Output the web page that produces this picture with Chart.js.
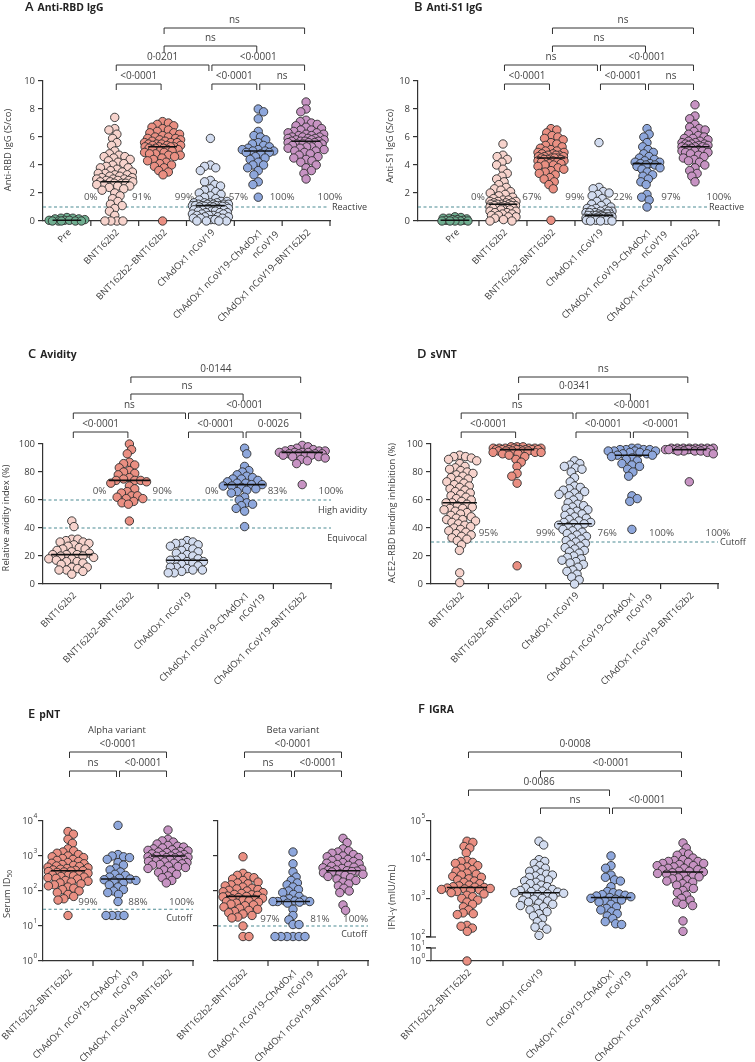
<!DOCTYPE html>
<html>
<head>
<meta charset="utf-8">
<script src="https://cdn.jsdelivr.net/npm/chart.js@4.4.0/dist/chart.umd.min.js"></script>
<style>
  body { margin: 0; background: #fff; width: 755px; height: 1062px; position: relative; overflow: hidden; }
  canvas { position: absolute; }
</style>
</head>
<body>
<canvas id="cA"></canvas>
<canvas id="cB"></canvas>
<canvas id="cC"></canvas>
<canvas id="cD"></canvas>
<canvas id="cE1"></canvas>
<canvas id="cE2"></canvas>
<canvas id="cF"></canvas>
<script>
// ---- categories ----
const CAT_LABELS = {
  pre: 'Pre',
  bnt: 'BNT162b2',
  bntbnt: 'BNT162b2–BNT162b2',
  chad: 'ChAdOx1 nCoV19',
  chadchad: ['ChAdOx1 nCoV19–ChAdOx1', 'nCoV19'],
  chadbnt: 'ChAdOx1 nCoV19–BNT162b2'
};
const KEYS_AB = ['pre', 'bnt', 'bntbnt', 'chad', 'chadchad', 'chadbnt'];
const KEYS_CD = ['bnt', 'bntbnt', 'chad', 'chadchad', 'chadbnt'];
const KEYS_E = ['bntbnt', 'chadchad', 'chadbnt'];
const KEYS_F = ['bntbnt', 'chad', 'chadchad', 'chadbnt'];

// ---- A: anti-RBD IgG (S/co) ----
const rbdPre = [0.25, 0.2, 0.2, 0.15, 0.15, 0.1, 0.05, 0.05, 0.05, 0, 0, 0, 0, 0];
const rbdBnt = [7.4, 6.6, 6.5, 6.2, 5.9, 5.6, 5.4, 5.0, 4.8, 4.7, 4.6, 4.6, 4.5, 4.4, 4.3, 4.2, 4.1, 4.0, 3.9, 3.8, 3.8, 3.7, 3.6, 3.5, 3.5, 3.4, 3.4, 3.3, 3.3, 3.2, 3.2, 3.1, 3.1, 3.0, 3.0, 3.0, 2.9, 2.9, 2.9, 2.8, 2.8, 2.8, 2.7, 2.7, 2.7, 2.6, 2.6, 2.5, 2.5, 2.4, 2.3, 2.2, 2.0, 1.8, 1.6, 1.4, 1.2, 1.1, 0.9, 0.7, 0.4, 0, 0, 0, 0];
const rbdBntBnt = [7.1, 7.0, 6.9, 6.8, 6.7, 6.6, 6.5, 6.4, 6.3, 6.3, 6.2, 6.1, 6.0, 6.0, 5.9, 5.9, 5.8, 5.8, 5.7, 5.7, 5.6, 5.6, 5.6, 5.5, 5.5, 5.5, 5.4, 5.4, 5.4, 5.3, 5.3, 5.3, 5.3, 5.2, 5.2, 5.2, 5.1, 5.1, 5.1, 5.0, 5.0, 4.9, 4.9, 4.8, 4.8, 4.7, 4.7, 4.6, 4.5, 4.4, 4.3, 4.2, 4.1, 4.0, 3.9, 3.8, 3.6, 3.5, 3.3, 0];
const rbdChad = [5.9, 4.0, 3.9, 3.8, 3.6, 2.9, 2.8, 2.6, 2.5, 2.3, 2.2, 2.1, 2.0, 1.9, 1.8, 1.7, 1.6, 1.5, 1.4, 1.4, 1.3, 1.3, 1.3, 1.3, 1.2, 1.2, 1.2, 1.2, 1.2, 1.1, 1.1, 1.1, 1.1, 1.1, 1.05, 1.05, 1.05, 1.05, 1.0, 1.0, 0.9, 0.9, 0.9, 0.8, 0.8, 0.8, 0.7, 0.7, 0.7, 0.6, 0.6, 0.6, 0.5, 0.5, 0.5, 0.4, 0.4, 0.4, 0.3, 0.3, 0.3, 0.2, 0.2, 0.2, 0.1, 0.1, 0, 0, 0, 0];
const rbdChadChad = [8.0, 7.8, 7.3, 6.4, 6.1, 6.0, 5.8, 5.6, 5.5, 5.4, 5.3, 5.2, 5.1, 5.1, 5.0, 5.0, 5.0, 4.9, 4.9, 4.8, 4.6, 4.5, 4.4, 4.2, 4.0, 4.0, 3.8, 3.6, 3.3, 2.8, 2.6, 1.7];
const rbdChadBnt = [8.5, 8.0, 7.8, 7.2, 7.1, 7.0, 6.9, 6.8, 6.7, 6.6, 6.5, 6.5, 6.4, 6.3, 6.3, 6.2, 6.2, 6.1, 6.1, 6.0, 6.0, 6.0, 5.9, 5.9, 5.9, 5.8, 5.8, 5.8, 5.7, 5.7, 5.7, 5.7, 5.6, 5.6, 5.6, 5.5, 5.5, 5.5, 5.4, 5.4, 5.3, 5.3, 5.2, 5.2, 5.1, 5.0, 5.0, 4.9, 4.8, 4.7, 4.6, 4.5, 4.4, 4.3, 4.2, 4.0, 3.8, 3.6, 3.4, 3.0];
const rbdMedian = [0.05, 2.8, 5.3, 1.1, 5.0, 5.7];
const rbdPct = ['0%', '91%', '99%', '57%', '100%', '100%'];
const rbdBrackets = [[1, 2, 0, '<0·0001'], [3, 4, 0, '<0·0001'], [4, 5, 0, 'ns'], [1, 3, 1, '0·0201'], [3, 5, 1, '<0·0001'], [2, 4, 2, 'ns'], [2, 5, 3, 'ns']];

// ---- B: anti-S1 IgG (S/co) ----
const s1Pre = [0.3, 0.25, 0.2, 0.2, 0.15, 0.1, 0.1, 0.05, 0.05, 0, 0, 0, 0, 0];
const s1Bnt = [5.5, 4.7, 4.6, 4.4, 4.2, 4.0, 3.7, 3.4, 3.2, 3.0, 2.8, 2.6, 2.4, 2.3, 2.2, 2.1, 2.0, 1.9, 1.8, 1.7, 1.6, 1.5, 1.5, 1.4, 1.4, 1.4, 1.3, 1.3, 1.3, 1.2, 1.2, 1.2, 1.2, 1.1, 1.1, 1.1, 1.1, 1.0, 1.0, 1.0, 1.0, 0.9, 0.9, 0.9, 0.8, 0.8, 0.8, 0.7, 0.7, 0.6, 0.6, 0.5, 0.5, 0.4, 0.4, 0.3, 0.3, 0.2, 0.1, 0, 0];
const s1BntBnt = [6.6, 6.5, 6.3, 6.1, 6.0, 5.9, 5.8, 5.6, 5.5, 5.4, 5.3, 5.2, 5.1, 5.0, 5.0, 4.9, 4.9, 4.8, 4.8, 4.7, 4.7, 4.7, 4.6, 4.6, 4.6, 4.5, 4.5, 4.5, 4.5, 4.4, 4.4, 4.4, 4.3, 4.3, 4.3, 4.2, 4.2, 4.1, 4.1, 4.0, 4.0, 3.9, 3.8, 3.7, 3.6, 3.5, 3.4, 3.3, 3.1, 3.0, 2.8, 2.6, 2.3, 0.05];
const s1Chad = [5.6, 2.4, 2.3, 2.1, 2.0, 1.9, 1.8, 1.6, 1.4, 1.3, 1.2, 1.1, 1.0, 0.9, 0.9, 0.8, 0.8, 0.7, 0.7, 0.7, 0.6, 0.6, 0.6, 0.5, 0.5, 0.5, 0.5, 0.4, 0.4, 0.4, 0.4, 0.3, 0.3, 0.3, 0.3, 0.3, 0.2, 0.2, 0.2, 0.2, 0.2, 0.2, 0.1, 0.1, 0.1, 0.1, 0.1, 0.1, 0.05, 0.05, 0.05, 0, 0, 0];
const s1ChadChad = [6.6, 6.2, 6.0, 5.6, 5.3, 5.1, 4.9, 4.8, 4.6, 4.5, 4.4, 4.3, 4.2, 4.2, 4.1, 4.1, 4.0, 4.0, 3.9, 3.8, 3.7, 3.5, 3.3, 3.2, 3.0, 2.8, 2.6, 1.9, 1.7, 1.5, 1.0];
const s1ChadBnt = [8.3, 7.5, 7.3, 6.9, 6.7, 6.6, 6.5, 6.4, 6.2, 6.1, 6.0, 5.9, 5.9, 5.8, 5.7, 5.7, 5.6, 5.6, 5.5, 5.5, 5.5, 5.4, 5.4, 5.4, 5.3, 5.3, 5.3, 5.2, 5.2, 5.2, 5.1, 5.1, 5.0, 5.0, 5.0, 4.9, 4.9, 4.8, 4.7, 4.6, 4.5, 4.4, 4.3, 4.2, 4.0, 3.8, 3.6, 3.4, 3.2, 2.8];
const s1Median = [0.05, 1.2, 4.5, 0.4, 4.1, 5.3];
const s1Pct = ['0%', '67%', '99%', '22%', '97%', '100%'];
const s1Brackets = [[1, 2, 0, '<0·0001'], [3, 4, 0, '<0·0001'], [4, 5, 0, 'ns'], [1, 3, 1, 'ns'], [3, 5, 1, '<0·0001'], [2, 4, 2, 'ns'], [2, 5, 3, 'ns']];

// ---- C: avidity (%) ----
const avBnt = [45, 41, 32, 32, 31, 30, 30, 29, 28, 27, 26, 25, 25, 24, 23, 22, 21, 21, 21, 20, 20, 19, 18, 18, 17, 16, 16, 15, 14, 12, 12, 11, 10, 10, 9, 7];
const avBntBnt = [100, 96, 93, 87, 86, 85, 83, 81, 80, 79, 78, 76, 75, 74, 74, 74, 73, 72, 70, 68, 66, 65, 63, 63, 62, 61, 61, 59, 58, 57, 45];
const avChad = [31, 30, 29, 29, 28, 27, 26, 25, 24, 23, 22, 21, 20, 19, 18, 17, 17, 16, 16, 15, 14, 13, 12, 12, 11, 10, 10, 9, 8, 8];
const avChadChad = [97, 93, 84, 81, 80, 78, 77, 76, 75, 75, 74, 73, 72, 72, 71, 71, 70, 70, 69, 68, 67, 66, 65, 62, 60, 58, 57, 56, 54, 52, 41];
const avChadBnt = [99, 98, 97, 96, 96, 95, 95, 95, 94, 94, 94, 94, 93, 93, 93, 93, 92, 92, 92, 91, 91, 90, 89, 88, 86, 71];
const avMedian = [21, 74, 17, 71, 94];
const avPct = ['0%', '90%', '0%', '83%', '100%'];
const avBrackets = [[0, 1, 0, '<0·0001'], [2, 3, 0, '<0·0001'], [3, 4, 0, '0·0026'], [0, 2, 1, 'ns'], [2, 4, 1, '<0·0001'], [1, 3, 2, 'ns'], [1, 4, 3, '0·0144']];

// ---- D: sVNT, ACE2-RBD binding inhibition (%) ----
const svBnt = [92, 91, 91, 90, 89, 88, 86, 84, 83, 82, 81, 80, 79, 78, 77, 76, 75, 74, 73, 72, 71, 70, 69, 68, 67, 66, 65, 64, 63, 62, 61, 60, 59, 58, 58, 57, 56, 55, 54, 54, 53, 52, 51, 50, 49, 48, 47, 46, 46, 45, 44, 43, 42, 41, 40, 39, 38, 37, 36, 35, 34, 33, 32, 31, 28, 24, 8, 1];
const svBntBnt = [98, 98, 98, 97, 97, 97, 97, 97, 97, 97, 96, 96, 96, 96, 96, 96, 96, 96, 95, 95, 95, 95, 95, 94, 94, 94, 93, 93, 92, 91, 89, 87, 84, 79, 77, 72, 13];
const svChad = [88, 86, 85, 84, 83, 82, 80, 76, 73, 70, 69, 68, 67, 66, 65, 64, 63, 62, 60, 58, 57, 56, 55, 54, 53, 52, 51, 50, 49, 48, 47, 46, 45, 44, 44, 43, 43, 42, 41, 40, 39, 38, 37, 36, 35, 34, 33, 32, 31, 30, 29, 28, 27, 26, 25, 24, 23, 22, 20, 19, 18, 17, 16, 15, 14, 12, 10, 9, 7, 5, 3, 0];
const svChadChad = [97, 97, 96, 96, 96, 96, 95, 95, 95, 95, 94, 94, 93, 93, 92, 92, 91, 90, 89, 88, 86, 85, 84, 82, 80, 77, 63, 61, 59, 39];
const svChadBnt = [97, 97, 97, 97, 97, 97, 97, 97, 96, 96, 96, 96, 96, 96, 96, 96, 96, 96, 95, 95, 95, 95, 94, 93, 73];
const svMedian = [58, 96, 43, 92, 96];
const svPct = ['95%', '99%', '76%', '100%', '100%'];
const svBrackets = [[0, 1, 0, '<0·0001'], [2, 3, 0, '<0·0001'], [3, 4, 0, '<0·0001'], [0, 2, 1, 'ns'], [2, 4, 1, '<0·0001'], [1, 3, 2, '0·0341'], [1, 4, 3, 'ns']];

// ---- E: pNT, serum ID50 ----
const alphaBntBnt = [5000, 4200, 3000, 2300, 1600, 1400, 1300, 1200, 1100, 1000, 950, 900, 850, 800, 750, 700, 650, 620, 600, 570, 540, 520, 500, 480, 460, 440, 420, 400, 390, 380, 370, 360, 350, 340, 320, 300, 290, 280, 270, 260, 250, 240, 230, 220, 200, 190, 180, 170, 160, 150, 140, 130, 120, 110, 100, 90, 80, 70, 60, 55, 20];
const alphaChadChad = [7500, 1100, 1000, 950, 900, 800, 650, 550, 450, 400, 350, 300, 280, 250, 230, 220, 210, 200, 190, 170, 150, 130, 110, 100, 90, 80, 50, 20, 20, 20, 20];
const alphaChadBnt = [5500, 3000, 2700, 2500, 2200, 2000, 1900, 1800, 1700, 1600, 1500, 1450, 1400, 1350, 1300, 1250, 1200, 1150, 1100, 1050, 1000, 1000, 980, 950, 920, 900, 880, 850, 820, 800, 780, 750, 720, 700, 680, 650, 620, 600, 570, 550, 520, 500, 470, 440, 400, 370, 340, 300, 270, 240, 200, 170];
const alphaMedian = [380, 220, 1000];
const alphaPct = ['99%', '88%', '100%'];
const betaBntBnt = [950, 320, 280, 260, 240, 220, 200, 180, 170, 160, 150, 140, 130, 120, 115, 110, 105, 100, 95, 90, 85, 80, 78, 75, 72, 70, 68, 65, 62, 60, 58, 55, 52, 50, 48, 45, 42, 40, 38, 35, 32, 30, 28, 26, 24, 22, 20, 18, 17, 10, 5, 5];
const betaChadChad = [1300, 600, 350, 250, 200, 170, 150, 130, 110, 100, 90, 80, 70, 60, 55, 55, 52, 50, 50, 50, 48, 45, 30, 20, 15, 11, 11, 5, 5, 5, 5, 5, 5];
const betaChadBnt = [3200, 2400, 1600, 1400, 1300, 1200, 1100, 1000, 950, 900, 850, 800, 750, 700, 650, 620, 600, 570, 540, 510, 480, 460, 440, 420, 400, 390, 380, 370, 360, 350, 330, 310, 300, 280, 260, 240, 220, 200, 180, 160, 140, 120, 100, 90, 40, 28];
const betaMedian = [70, 50, 380];
const betaPct = ['97%', '81%', '100%'];
const pntBrackets = [[0, 1, 0, 'ns'], [1, 2, 0, '<0·0001'], [0, 2, 1, '<0·0001']];

// ---- F: IGRA, IFN-gamma (mIU/mL) ----
const igBntBnt = [30000, 28000, 22000, 20000, 15000, 9500, 9000, 8500, 8000, 7000, 6500, 6000, 5500, 5000, 4500, 4200, 4000, 3700, 3500, 3200, 3000, 2800, 2600, 2400, 2200, 2100, 2000, 1950, 1900, 1850, 1800, 1750, 1700, 1650, 1600, 1500, 1400, 1300, 1200, 1100, 1000, 900, 800, 700, 600, 500, 420, 400, 380, 200, 190, 170, 140, 1];
const igChad = [30000, 24000, 10000, 9000, 8000, 7000, 6000, 5500, 5000, 4600, 4200, 4000, 3800, 3500, 3200, 3000, 2800, 2600, 2400, 2200, 2000, 1900, 1800, 1700, 1600, 1550, 1500, 1450, 1400, 1350, 1300, 1250, 1200, 1100, 1000, 950, 900, 850, 800, 750, 700, 650, 600, 550, 500, 450, 400, 350, 300, 250, 200, 180, 160, 110];
const igChadChad = [12500, 7000, 6000, 4000, 3500, 3000, 2800, 2000, 1500, 1400, 1300, 1250, 1200, 1150, 1100, 1050, 1000, 950, 900, 850, 800, 700, 600, 550, 500, 450, 400, 350, 300, 250, 220, 210];
const igChadBnt = [27000, 20000, 15000, 14000, 13000, 11000, 10000, 9500, 9000, 9000, 8500, 8000, 8000, 7500, 7000, 7000, 6500, 6000, 6000, 5500, 5500, 5000, 5000, 4800, 4600, 4400, 4200, 4000, 3800, 3600, 3400, 3200, 3000, 2800, 2600, 2400, 2200, 2000, 1800, 1600, 1400, 1200, 1000, 900, 800, 700, 650, 260, 140];
const igMedian = [1900, 1400, 1050, 4800];
const igBrackets = [[1, 2, 0, 'ns'], [2, 3, 0, '<0·0001'], [0, 2, 1, '0·0086'], [1, 3, 2, '<0·0001'], [0, 3, 3, '0·0008']];

// ---- styling ----
const FONT = "'Open Sans', 'DejaVu Sans', sans-serif";
const INK = '#333';
const TXT = '#3c3c3c';
const DASH = '#4d8c94';
const COLORS = {
  pre: '#6fae90', bnt: '#f7d3cc', bntbnt: '#ea8f82',
  chad: '#d2dcf0', chadchad: '#8ea7dc', chadbnt: '#c793c3'
};
const DOT_R = 4.2;
const GAP = 6.0; // px distance kept between dot centres in the swarm

// font sizes fitted so that sample strings get the width they have in the figure
const mctx = document.createElement('canvas').getContext('2d');
function fitSize(sample, target, weight) {
  mctx.font = `${weight || 'normal'} 20px ${FONT}`;
  return 20 * target / mctx.measureText(sample).width;
}
const SZ = {
  cat: fitSize('ChAdOx1 nCoV19–BNT162b2', 127),
  tick: Math.max(9.5, fitSize('100', 16)),
  br: fitSize('<0·0001', 37),
  pct: fitSize('100%', 25),
  thr: fitSize('Reactive', 35),
  ytitle: fitSize('ACE2–RBD binding inhibition (%)', 140),
  note: fitSize('Alpha variant', 58),
  title: fitSize('Anti-RBD IgG', 66, 'bold')
};

Chart.defaults.font.family = FONT;
Chart.defaults.color = TXT;
Chart.defaults.animation = false;

/** Beeswarm offsets (px) for dot centres at pixel heights ys. */
function swarm(ys, gap, half) {
  const order = ys.map((y, i) => i).sort((a, b) => ys[a] - ys[b]);
  const placed = [];
  const out = new Array(ys.length);
  let flip = false;
  for (const i of order) {
    const y = ys[i];
    const near = placed.filter(p => Math.abs(p.y - y) < gap);
    const cands = [0];
    near.forEach(p => {
      const dx = Math.sqrt(gap * gap - (p.y - y) ** 2);
      cands.push(p.x + dx, p.x - dx);
    });
    flip = !flip;
    cands.sort((a, b) => (Math.abs(a) - Math.abs(b)) || (flip ? a - b : b - a));
    let best = null;
    for (const c of cands) {
      if (Math.abs(c) > half + 0.01) continue;
      if (near.every(p => (p.x - c) ** 2 + (p.y - y) ** 2 >= gap * gap - 0.05)) { best = c; break; }
    }
    if (best === null) {
      // no free slot inside the band: take the least crowded one
      let bd = -1;
      for (let c = -half; c <= half + 0.01; c += 0.5) {
        const md = Math.min(...near.map(p => Math.hypot(p.x - c, p.y - y)));
        if (md > bd + 0.01 || (Math.abs(md - bd) < 0.01 && Math.abs(c) < Math.abs(best))) { bd = md; best = c; }
      }
    }
    placed.push({ x: best, y });
    out[i] = best;
  }
  return out;
}

function seg(ctx, x1, y1, x2, y2) {
  ctx.beginPath(); ctx.moveTo(x1, y1); ctx.lineTo(x2, y2); ctx.stroke();
}

function label(ctx, str, x, y, align, base, size, color, weight) {
  ctx.font = `${weight || 'normal'} ${size}px ${FONT}`;
  ctx.fillStyle = color;
  ctx.textAlign = align;
  ctx.textBaseline = base;
  ctx.fillText(str, x, y);
}

function powLabel(ctx, exp, xr, y) {
  label(ctx, '10', xr, y, 'right', 'middle', SZ.tick, TXT);
  label(ctx, String(exp), xr + 0.5, y - 5, 'left', 'middle', SZ.tick * 0.7, TXT);
}

function decor(p) {
  const ox = p.rect[0], oy = p.rect[1];
  return {
    id: 'decor',
    beforeDatasetsDraw(chart) {
      const ctx = chart.ctx, xs = chart.scales.x, ys = chart.scales.y;
      const { left } = chart.chartArea;
      ctx.save();
      (p.thresholds || []).forEach(t => {
        const y = ys.getPixelForValue(t.v);
        ctx.setLineDash([3, 2.5]);
        ctx.strokeStyle = DASH; ctx.lineWidth = 1.1;
        seg(ctx, left, y, t.end - ox, y);
        ctx.setLineDash([]);
        label(ctx, t.text, t.tx - ox, y + t.dy, t.align, 'middle', SZ.thr, TXT);
      });
      if (p.pct) {
        const y = ys.getPixelForValue(p.pct.v);
        p.pct.texts.forEach((s, i) => {
          ctx.font = `${SZ.pct}px ${FONT}`;
          const w = ctx.measureText(s).width;
          const shift = p.pct.shift ? p.pct.shift[i] : 0;
          let cx = xs.getPixelForValue(i + 0.5) + (p.pct.dx || 0) + shift;
          if (p.pct.maxRight !== undefined) cx = Math.min(cx, p.pct.maxRight - ox - w / 2);
          label(ctx, s, cx, y, 'center', 'middle', SZ.pct, '#555');
        });
      }
      ctx.restore();
    },
    afterDraw(chart) {
      const ctx = chart.ctx, xs = chart.scales.x, ys = chart.scales.y;
      const { left, bottom } = chart.chartArea;
      ctx.save();
      ctx.strokeStyle = INK; ctx.lineWidth = 1.2;

      // category boundary ticks and 45 degree category labels
      p.keys.forEach((k, i) => {
        const x = xs.getPixelForValue(i + 0.5);
        seg(ctx, x, bottom, x, bottom + 5);
        const lines = [].concat(CAT_LABELS[k]);
        ctx.save();
        ctx.translate(xs.getPixelForValue(i) + 3, bottom + 10);
        ctx.rotate(-Math.PI / 4);
        lines.forEach((s, j) => label(ctx, s, j * 10, j * 13, 'right', 'middle', SZ.cat, TXT));
        ctx.restore();
      });

      // significance brackets
      ctx.lineWidth = 1;
      p.brackets.forEach(([a, b, lvl, txt]) => {
        const y = p.levels[lvl] - oy;
        const x1 = xs.getPixelForValue(a) + 1.5, x2 = xs.getPixelForValue(b) - 1.5;
        ctx.beginPath();
        ctx.moveTo(x1, y + 6); ctx.lineTo(x1, y); ctx.lineTo(x2, y); ctx.lineTo(x2, y + 6);
        ctx.stroke();
        label(ctx, txt, (x1 + x2) / 2, y - 2.5, 'center', 'bottom', SZ.br, '#444');
      });

      // log tick labels with superscript exponents
      if (p.y.pow) {
        p.y.pow.forEach(e => powLabel(ctx, e, left - 10, ys.getPixelForValue(Math.pow(10, e))));
      }
      if (p.y2) {
        const y2 = chart.scales.y2;
        p.y2.pow.forEach(e => powLabel(ctx, e, left - 10, y2.getPixelForValue(Math.pow(10, e))));
        ctx.lineWidth = 1.2;
        const yTen = y2.getPixelForValue(10);
        seg(ctx, left, yTen, left, bottom);
        const yHund = ys.getPixelForValue(100);
        seg(ctx, left - 5, yHund, left + 5, yHund);
        seg(ctx, left - 5, yTen, left + 5, yTen);
      }

      // panel title
      if (p.title) {
        const t = p.title;
        const ls = SZ.title * 1.25;
        label(ctx, t.letter, t.x - ox, t.y - oy, 'left', 'alphabetic', ls, '#222', '600');
        ctx.font = `600 ${ls}px ${FONT}`;
        const w = ctx.measureText(t.letter).width;
        label(ctx, t.text, t.x - ox + w + 4, t.y - oy, 'left', 'alphabetic', SZ.title, '#222', 'bold');
      }
      (p.notes || []).forEach(n => label(ctx, n.text, n.x - ox, n.y - oy, 'center', 'alphabetic', SZ.note, TXT));

      // rotated y-axis title, optional subscript
      if (p.ytitle) {
        const t = p.ytitle;
        ctx.translate(t.x - ox, t.y - oy);
        ctx.rotate(-Math.PI / 2);
        ctx.font = `${SZ.ytitle}px ${FONT}`;
        const w1 = ctx.measureText(t.text).width;
        ctx.font = `${SZ.ytitle * 0.7}px ${FONT}`;
        const w2 = t.sub ? ctx.measureText(t.sub).width : 0;
        const x0 = -(w1 + w2) / 2;
        label(ctx, t.text, x0, 0, 'left', 'middle', SZ.ytitle, TXT);
        if (t.sub) label(ctx, t.sub, x0 + w1, 3, 'left', 'middle', SZ.ytitle * 0.7, TXT);
      }
      ctx.restore();
    }
  };
}

function yScale(s, width) {
  const o = {
    type: s.type, min: s.min, max: s.max, position: 'left',
    grid: { drawOnChartArea: false, drawTicks: true, tickLength: 5, color: INK, lineWidth: 1.2 },
    border: { display: s.border !== false, color: INK, width: 1.2 },
    ticks: { color: TXT, padding: 3, font: { size: SZ.tick }, callback: v => (s.type === 'logarithmic' ? '' : v) },
    afterBuildTicks: sc => { sc.ticks = s.ticks.map(v => ({ value: v })); },
    afterFit: sc => { sc.width = width; sc.paddingTop = 0; sc.paddingBottom = 0; }
  };
  if (s.stack) { o.stack = s.stack; o.stackWeight = s.weight; }
  return o;
}

function build(p) {
  const cv = document.getElementById(p.id);
  const [cx, cy, cw, ch] = p.rect;
  const [al, at, ar, ab] = p.area;
  cv.width = cw; cv.height = ch;
  Object.assign(cv.style, { left: cx + 'px', top: cy + 'px', width: cw + 'px', height: ch + 'px' });

  const datasets = [];
  p.values.forEach((vals, i) => {
    const split = p.y2 ? p.y2.split : -Infinity;
    const parts = [['y', vals.filter(v => v >= split)], ['y2', vals.filter(v => v < split)]];
    parts.forEach(([axis, arr]) => {
      if (!arr.length) return;
      datasets.push({
        grp: i, yAxisID: axis, order: 1, clip: false,
        data: arr.map(v => ({ x: i, y: v })),
        backgroundColor: COLORS[p.keys[i]], borderColor: '#2e2e2e', borderWidth: 0.9,
        pointRadius: DOT_R, pointHoverRadius: DOT_R
      });
    });
  });
  const med = [];
  p.medians.forEach((m, i) => med.push({ x: i - p.medHalf, y: m }, { x: i + p.medHalf, y: m }, { x: i, y: null }));
  datasets.push({
    type: 'line', data: med, yAxisID: 'y', order: 0, clip: false,
    borderColor: '#111', borderWidth: 1.6, pointRadius: 0, spanGaps: false
  });

  const scales = {
    x: {
      type: 'linear', min: p.xmin, max: p.keys.length - 0.5,
      grid: { display: false },
      border: { display: true, color: INK, width: 1.2 },
      ticks: { display: false },
      afterBuildTicks: sc => { sc.ticks = p.keys.map((k, i) => ({ value: i })); },
      afterFit: sc => { sc.height = ch - (ab - cy); sc.paddingLeft = 0; sc.paddingRight = 0; }
    }
  };
  if (p.y2) scales.y2 = yScale(p.y2, al - cx);
  scales.y = yScale(p.y, al - cx);

  const chart = new Chart(cv, {
    type: 'scatter',
    data: { datasets },
    options: {
      responsive: false, devicePixelRatio: 1, events: [],
      layout: { padding: { left: 0, top: at - cy, right: cx + cw - ar, bottom: 0 } },
      plugins: { legend: { display: false }, tooltip: { enabled: false } },
      scales
    },
    plugins: [decor(p)]
  });

  // spread each group into a swarm using the real scales
  const xs = chart.scales.x;
  const unit = xs.getPixelForValue(1) - xs.getPixelForValue(0);
  chart.data.datasets.forEach(ds => {
    if (ds.grp === undefined) return;
    const sc = chart.scales[ds.yAxisID];
    const py = ds.data.map(d => sc.getPixelForValue(d.y));
    const off = swarm(py, GAP, p.half);
    ds.data.forEach((d, j) => { d.x = ds.grp + off[j] / unit; });
  });
  chart.update('none');
  return chart;
}

const panels = [
  {
    id: 'cA', rect: [0, 0, 375, 335], area: [43, 81, 330, 221], xmin: -0.5,
    keys: KEYS_AB, values: [rbdPre, rbdBnt, rbdBntBnt, rbdChad, rbdChadChad, rbdChadBnt], medians: rbdMedian,
    y: { type: 'linear', min: 0, max: 10, ticks: [0, 2, 4, 6, 8, 10] }, medHalf: 0.3, half: 18,
    thresholds: [{ v: 1, end: 329, text: 'Reactive', tx: 332, dy: 0, align: 'left' }],
    pct: { texts: rbdPct, v: 1.7, shift: [0, 3, -2, 4, 0, 0] }, brackets: rbdBrackets, levels: [84, 65, 46, 28],
    title: { letter: 'A', text: 'Anti-RBD IgG', x: 25, y: 11 },
    ytitle: { text: 'Anti-RBD IgG (S/co)', x: 8, y: 150 }
  },
  {
    id: 'cB', rect: [375, 0, 380, 335], area: [418, 81, 719, 221], xmin: -0.77,
    keys: KEYS_AB, values: [s1Pre, s1Bnt, s1BntBnt, s1Chad, s1ChadChad, s1ChadBnt], medians: s1Median,
    y: { type: 'linear', min: 0, max: 10, ticks: [0, 2, 4, 6, 8, 10] }, medHalf: 0.3, half: 13,
    thresholds: [{ v: 1, end: 707, text: 'Reactive', tx: 709, dy: 0, align: 'left' }],
    pct: { texts: s1Pct, v: 1.7, shift: [-1, 5, 0, 0, 0, 0] }, brackets: s1Brackets, levels: [84, 65, 46, 28],
    title: { letter: 'B', text: 'Anti-S1 IgG', x: 414, y: 11 },
    ytitle: { text: 'Anti-S1 IgG (S/co)', x: 390, y: 146 }
  },
  {
    id: 'cC', rect: [0, 335, 375, 365], area: [43, 444, 331, 584], xmin: -0.5,
    keys: KEYS_CD, values: [avBnt, avBntBnt, avChad, avChadChad, avChadBnt], medians: avMedian,
    y: { type: 'linear', min: 0, max: 100, ticks: [0, 20, 40, 60, 80, 100] }, medHalf: 0.36, half: 23,
    thresholds: [
      { v: 60, end: 331, text: 'High avidity', tx: 367, dy: 10, align: 'right' },
      { v: 40, end: 331, text: 'Equivocal', tx: 367, dy: 10, align: 'right' }
    ],
    pct: { texts: avPct, v: 66, shift: [-1, 4, -4, 4, 0] }, brackets: avBrackets, levels: [432, 413, 394, 377],
    title: { letter: 'C', text: 'Avidity', x: 28, y: 358 },
    ytitle: { text: 'Relative avidity index (%)', x: 6, y: 518 }
  },
  {
    id: 'cD', rect: [375, 335, 380, 365], area: [431, 444, 718, 584], xmin: -0.5,
    keys: KEYS_CD, values: [svBnt, svBntBnt, svChad, svChadChad, svChadBnt], medians: svMedian,
    y: { type: 'linear', min: 0, max: 100, ticks: [0, 20, 40, 60, 80, 100] }, medHalf: 0.3, half: 24,
    thresholds: [{ v: 30, end: 718, text: 'Cutoff', tx: 720, dy: 0, align: 'left' }],
    pct: { texts: svPct, v: 36, shift: [0, 0, 4, 1, 0] }, brackets: svBrackets, levels: [432, 413, 394, 377],
    title: { letter: 'D', text: 'sVNT', x: 417, y: 358 },
    ytitle: { text: 'ACE2–RBD binding inhibition (%)', x: 392, y: 513 }
  },
  {
    id: 'cE1', rect: [0, 700, 205, 362], area: [43, 821, 193, 961], xmin: -0.5,
    keys: KEYS_E, values: [alphaBntBnt, alphaChadChad, alphaChadBnt], medians: alphaMedian,
    y: { type: 'logarithmic', min: 1, max: 10000, ticks: [1, 10, 100, 1000, 10000], pow: [0, 1, 2, 3, 4] },
    medHalf: 0.34, half: 20,
    thresholds: [{ v: 30, end: 193, text: 'Cutoff', tx: 192, dy: 9, align: 'right' }],
    pct: { texts: alphaPct, v: 48, dx: -5, maxRight: 194 }, brackets: pntBrackets, levels: [771, 752],
    title: { letter: 'E', text: 'pNT', x: 28, y: 718 },
    notes: [{ text: 'Alpha variant', x: 117, y: 733 }],
    ytitle: { text: 'Serum ID', sub: '50', x: 7, y: 894 }
  },
  {
    id: 'cE2', rect: [160, 700, 215, 362], area: [218, 821, 368, 961], xmin: -0.5,
    keys: KEYS_E, values: [betaBntBnt, betaChadChad, betaChadBnt], medians: betaMedian,
    y: { type: 'logarithmic', min: 1, max: 10000, ticks: [1, 10, 100, 1000, 10000] },
    medHalf: 0.34, half: 20,
    thresholds: [{ v: 10, end: 368, text: 'Cutoff', tx: 367, dy: 8, align: 'right' }],
    pct: { texts: betaPct, v: 16, dx: 2, maxRight: 368 }, brackets: pntBrackets, levels: [771, 752],
    notes: [{ text: 'Beta variant', x: 293, y: 733 }]
  },
  {
    id: 'cF', rect: [375, 700, 380, 362], area: [431, 821, 719, 961], xmin: -0.5,
    keys: KEYS_F, values: [igBntBnt, igChad, igChadChad, igChadBnt], medians: igMedian,
    y: { type: 'logarithmic', min: 100, max: 100000, ticks: [100, 1000, 10000, 100000], pow: [2, 3, 4, 5], stack: 'f', weight: 116 },
    y2: { type: 'logarithmic', min: 1, max: Math.pow(10, 24 / 13), ticks: [1, 10], pow: [0, 1], stack: 'f', weight: 24, border: false, split: 50 },
    medHalf: 0.28, half: 27,
    brackets: igBrackets, levels: [808, 790, 771, 752],
    title: { letter: 'F', text: 'IGRA', x: 418, y: 713 },
    ytitle: { text: 'IFN-γ (mIU/mL)', x: 392, y: 897 }
  }
];

panels.forEach(build);
</script>
</body>
</html>
